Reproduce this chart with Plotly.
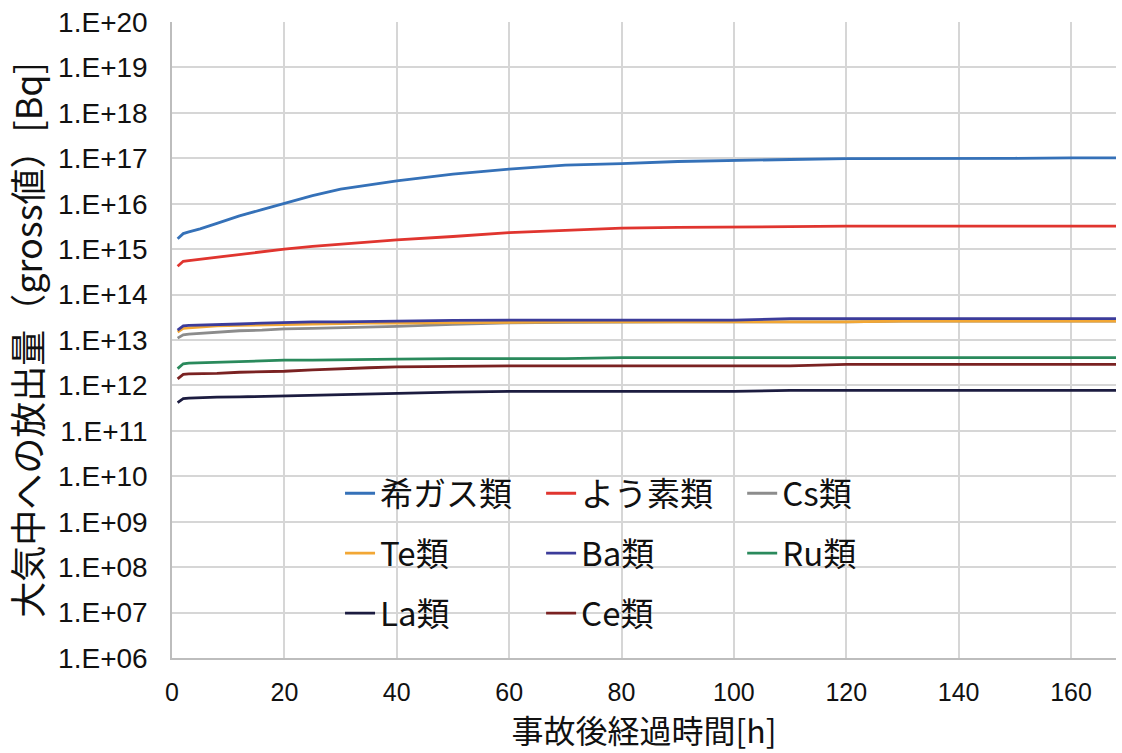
import plotly.graph_objects as go

# ---- data ----
hours = [1, 2, 3, 5, 8, 12, 16, 20, 25, 30, 35, 40, 50, 60, 70, 80, 90, 100,
         110, 120, 130, 140, 150, 160, 168]

noble_gas = [1.7e15, 2.2e15, 2.4e15, 2.8e15, 3.7e15, 5.4e15, 7.4e15, 1.0e16, 1.5e16,
             2.1e16, 2.6e16, 3.2e16, 4.5e16, 5.8e16, 7.1e16, 7.6e16, 8.5e16, 9.1e16,
             9.4e16, 9.8e16, 9.8e16, 1.0e17, 1.0e17, 1.02e17, 1.02e17]
iodine = [4.2e14, 5.4e14, 5.6e14, 6.0e14, 6.8e14, 7.6e14, 8.7e14, 1.0e15, 1.15e15,
          1.3e15, 1.45e15, 1.6e15, 1.9e15, 2.3e15, 2.6e15, 2.9e15, 3.0e15, 3.1e15,
          3.15e15, 3.2e15, 3.2e15, 3.2e15, 3.2e15, 3.2e15, 3.2e15]
cs = [1.1e13, 1.3e13, 1.35e13, 1.4e13, 1.5e13, 1.6e13, 1.65e13, 1.75e13, 1.8e13,
      1.85e13, 1.95e13, 2.0e13, 2.2e13, 2.4e13, 2.45e13, 2.5e13, 2.5e13, 2.5e13,
      2.5e13, 2.5e13, 2.6e13, 2.6e13, 2.6e13, 2.6e13, 2.6e13]
te = [1.5e13, 1.8e13, 1.85e13, 1.95e13, 2.05e13, 2.1e13, 2.15e13, 2.2e13, 2.25e13,
      2.3e13, 2.35e13, 2.35e13, 2.4e13, 2.5e13, 2.5e13, 2.5e13, 2.5e13, 2.5e13,
      2.5e13, 2.5e13, 2.6e13, 2.6e13, 2.6e13, 2.6e13, 2.6e13]
ba = [1.65e13, 2.05e13, 2.1e13, 2.15e13, 2.2e13, 2.25e13, 2.35e13, 2.45e13, 2.5e13,
      2.5e13, 2.55e13, 2.65e13, 2.7e13, 2.75e13, 2.75e13, 2.75e13, 2.75e13, 2.75e13,
      2.95e13, 2.95e13, 2.95e13, 2.95e13, 2.95e13, 2.95e13, 2.95e13]
ru = [2.35e12, 3.0e12, 3.1e12, 3.15e12, 3.25e12, 3.3e12, 3.45e12, 3.6e12, 3.6e12,
      3.7e12, 3.8e12, 3.8e12, 3.9e12, 3.9e12, 3.9e12, 4.1e12, 4.1e12, 4.1e12,
      4.1e12, 4.1e12, 4.1e12, 4.1e12, 4.1e12, 4.1e12, 4.1e12]
la = [4.2e11, 5.1e11, 5.25e11, 5.4e11, 5.5e11, 5.6e11, 5.75e11, 5.9e11, 6.2e11,
      6.3e11, 6.6e11, 6.9e11, 7.1e11, 7.4e11, 7.4e11, 7.4e11, 7.4e11, 7.4e11,
      7.8e11, 7.8e11, 7.8e11, 7.8e11, 7.8e11, 7.8e11, 7.8e11]
ce = [1.4e12, 1.75e12, 1.8e12, 1.8e12, 1.85e12, 1.95e12, 2.0e12, 2.05e12, 2.2e12,
      2.35e12, 2.45e12, 2.55e12, 2.65e12, 2.7e12, 2.7e12, 2.7e12, 2.7e12, 2.7e12,
      2.7e12, 2.9e12, 2.9e12, 2.9e12, 2.9e12, 2.9e12, 2.9e12]

series_names = ["希ガス類", "よう素類", "Cs類", "Te類", "Ba類", "Ru類", "La類", "Ce類"]
series_values = [noble_gas, iodine, cs, te, ba, ru, la, ce]
series_colors = ["#3571B8", "#E0352F", "#8C8C8C", "#F2A735", "#3C3C9A",
                 "#2A8A5C", "#1C1C40", "#7A2222"]
series_legend = ["legend", "legend2", "legend3", "legend", "legend2", "legend3",
                 "legend", "legend2"]

y_tick_vals = [1e6, 1e7, 1e8, 1e9, 1e10, 1e11, 1e12, 1e13, 1e14, 1e15, 1e16,
               1e17, 1e18, 1e19, 1e20]
y_tick_text = ["1.E+06", "1.E+07", "1.E+08", "1.E+09", "1.E+10", "1.E+11",
               "1.E+12", "1.E+13", "1.E+14", "1.E+15", "1.E+16", "1.E+17",
               "1.E+18", "1.E+19", "1.E+20"]
x_tick_vals = [0, 20, 40, 60, 80, 100, 120, 140, 160]

JP = "Noto Sans CJK JP"

fig = go.Figure()
for name, vals, col, lg in zip(series_names, series_values, series_colors, series_legend):
    fig.add_trace(go.Scatter(
        x=hours, y=vals, name=name, mode="lines",
        line=dict(color=col, width=2.8),
        legend=lg, legendgroup=name,
    ))

legend_common = dict(
    font=dict(family=JP, size=33, color="#111111"),
    bgcolor="rgba(0,0,0,0)", borderwidth=0,
    orientation="v", yanchor="top", xanchor="left",
    tracegroupgap=14, traceorder="grouped",
)

fig.update_layout(
    width=1122, height=753,
    margin=dict(l=172, r=6, t=22, b=95),
    paper_bgcolor="white", plot_bgcolor="white",
    showlegend=True,
    legend=dict(x=0.178, y=0.303, **legend_common),
    legend2=dict(x=0.391, y=0.303, **legend_common),
    legend3=dict(x=0.604, y=0.303, **legend_common),
    xaxis=dict(
        range=[0, 168], tickvals=x_tick_vals, automargin=False,
        showgrid=True, gridcolor="#D6D6D6", gridwidth=1.5,
        showline=True, linecolor="#BDBDBD", linewidth=1.5,
        zeroline=False, ticks="",
        tickfont=dict(family="Liberation Sans, Arial", size=25, color="#111111"),
        ticklabelstandoff=11,
        title=dict(text="事故後経過時間[h]", font=dict(family=JP, size=32, color="#111111"),
                   standoff=9),
    ),
    yaxis=dict(
        type="log", range=[6, 20], tickvals=y_tick_vals, ticktext=y_tick_text,
        automargin=False,
        showgrid=True, gridcolor="#D6D6D6", gridwidth=1.5,
        showline=True, linecolor="#BDBDBD", linewidth=1.5,
        zeroline=False, ticks="",
        tickfont=dict(family="Liberation Sans, Arial", size=28, color="#111111"),
        ticklabelstandoff=17,
        title=dict(text="大気中への放出量（gross値）[Bq]",
                   font=dict(family=JP, size=36, color="#111111"), standoff=16),
    ),
)

fig.write_html("out.html", config={"displayModeBar": False},
               post_script="document.body.style.margin='0';")
